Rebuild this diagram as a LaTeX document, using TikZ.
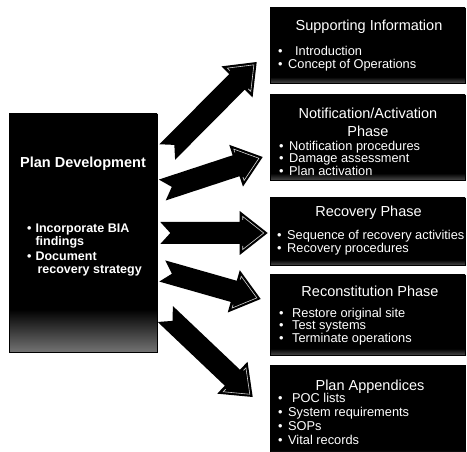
\documentclass[tikz,border=0pt]{standalone}
\usepackage{fontspec}
\setmainfont{Liberation Sans}
\usetikzlibrary{calc}

% black panels whose lower edge fades to grey
\pgfdeclareverticalshading{panelfade}{100bp}{color(0bp)=(black!55); color(25bp)=(black!55); color(34bp)=(black); color(100bp)=(black)}
\pgfdeclareverticalshading{cardfade}{100bp}{color(0bp)=(black!72); color(25bp)=(black!72); color(29bp)=(black); color(100bp)=(black)}

\tikzset{
  panel/.style={shade, shading=panelfade, draw=black, line width=0.6pt, inner sep=0pt,
    minimum width=148pt, minimum height=238pt},
  card/.style={shade, shading=cardfade, draw=black, line width=0.6pt, inner sep=0pt,
    minimum width=195pt},
  paneltitle/.style={text=white, inner sep=0pt, anchor=base,
    font=\fontsize{14.5}{17}\selectfont\bfseries},
  panellist/.style={text=white, inner sep=0pt, anchor=base west,
    font=\fontsize{12.5}{13}\selectfont\bfseries},
  cardtitle/.style={text=white, inner sep=0pt, anchor=base,
    font=\fontsize{14.5}{18}\selectfont},
  cardlist/.style={text=white, inner sep=0pt, anchor=base west,
    font=\fontsize{12.8}{12}\selectfont},
  arrowink/.style={fill=black},
  arrowgleam/.style={draw=white!82!black, line width=0.6pt, line join=miter},
}

% notched block arrow from tail #1 to tip #2
\newcommand\flowarrow[2]{%
  \coordinate (hb) at ($(#2)!28pt!(#1)$);
  \coordinate (hi) at ($(#2)!25pt!(#1)$);
  \coordinate (ti) at ($(#2)!4pt!(#1)$);
  \fill[arrowink] ($(#1)!11pt!90:(#2)$) -- ($(hb)!11pt!-90:(#1)$) -- ($(hb)!22pt!-90:(#1)$)
    -- (#2) -- ($(hb)!22pt!90:(#1)$) -- ($(hb)!11pt!90:(#1)$) -- ($(#1)!11pt!-90:(#2)$)
    -- ($(#1)!10pt!(#2)$) -- cycle;
  \draw[arrowgleam] ($(hi)!13pt!-90:(#1)$) -- ($(hi)!16.5pt!-90:(#1)$) -- (ti)
    -- ($(hi)!16.5pt!90:(#1)$) -- ($(hi)!13pt!90:(#1)$);
}

\begin{document}
\begin{tikzpicture}[x=1pt, y=-1pt]
  \useasboundingbox (0,0) rectangle (467,452);
  \fill[white] (0,0) rectangle (467,452);

  % left panel
  \node[panel] (pd) at (83,233) {};
  \node[paneltitle] (pdt) at (83,168) {Plan Development};
  \node[panellist] (pdl) at (27,232.5) {%
    \begin{tabular}[t]{@{}l@{\hspace{4pt}}l@{}}
      \textbullet & Incorporate BIA\\
                  & findings\\[2pt]
      \textbullet & Document\\
                  & \hspace{2pt}recovery strategy
    \end{tabular}};

  % right cards
  \node[card, minimum height=75pt] (sup) at (367.5,45.5) {};
  \node[card, minimum height=85pt] (note) at (367.5,137.5) {};
  \node[card, minimum height=67pt] (rec) at (367.5,231.5) {};
  \node[card, minimum height=80pt] (recon) at (367.5,315) {};
  \node[card, minimum height=92pt] (app) at (367.5,411) {};

  \node[cardtitle] (supt) at (369,31) {Supporting Information};
  \node[cardlist] (supl) at (278,55.5) {%
    \begin{tabular}[t]{@{}l@{\hspace{5.5pt}}l@{}}
      \textbullet & \hspace{7pt}Introduction\\
      \textbullet & Concept of Operations
    \end{tabular}};

  \node[cardtitle, anchor=center, align=center] (notet) at (368,122)
    {Notification/Activation\\Phase};
  \node[cardlist] (notel) at (279,150.5) {%
    \begin{tabular}[t]{@{}l@{\hspace{5.5pt}}l@{}}
      \textbullet & Notification procedures\\
      \textbullet & Damage assessment\\
      \textbullet & Plan activation
    \end{tabular}};

  \node[cardtitle] (rect) at (368.5,217) {Recovery Phase};
  \node[cardlist] (recl) at (277,239.5) {%
    \begin{tabular}[t]{@{}l@{\hspace{5.5pt}}l@{}}
      \textbullet & Sequence of recovery activities\\
      \textbullet & Recovery procedures
    \end{tabular}};

  \node[cardtitle] (recont) at (370,297) {Reconstitution Phase};
  \node[cardlist] (reconl) at (279,317.5) {%
    \begin{tabular}[t]{@{}l@{\hspace{5.5pt}}l@{}}
      \textbullet & \hspace{3pt}Restore original site\\
      \textbullet & \hspace{3pt}Test systems\\
      \textbullet & \hspace{3pt}Terminate operations
    \end{tabular}};

  \node[cardtitle] (appt) at (370,390) {Plan Appendices};
  \node[cardlist, font=\fontsize{12.8}{14}\selectfont] (appl) at (278,402.5) {%
    \begin{tabular}[t]{@{}l@{\hspace{5.5pt}}l@{}}
      \textbullet & \hspace{4pt}POC lists\\
      \textbullet & System requirements\\
      \textbullet & SOPs\\
      \textbullet & Vital records
    \end{tabular}};

  % arrow ends
  \coordinate (t1) at ($(pd.east)+(10,-81)$);
  \coordinate (t2) at ($(pd.east)+(5,-43)$);
  \coordinate (t3) at ($(pd.east)+(3,0)$);
  \coordinate (t4) at ($(pd.east)+(5,38)$);
  \coordinate (t5) at ($(pd.east)+(8,81)$);
  \coordinate (h1) at ($(sup.west)+(-13,16.5)$);
  \coordinate (h2) at ($(note.west)+(-7,19.5)$);
  \coordinate (h3) at ($(rec.west)+(-2,1.5)$);
  \coordinate (h4) at ($(recon.west)+(-9,-16)$);
  \coordinate (h5) at ($(app.west)+(-17,-14)$);

  \flowarrow{t1}{h1}
  \flowarrow{t2}{h2}
  \flowarrow{t3}{h3}
  \flowarrow{t4}{h4}
  \flowarrow{t5}{h5}
\end{tikzpicture}
\end{document}
